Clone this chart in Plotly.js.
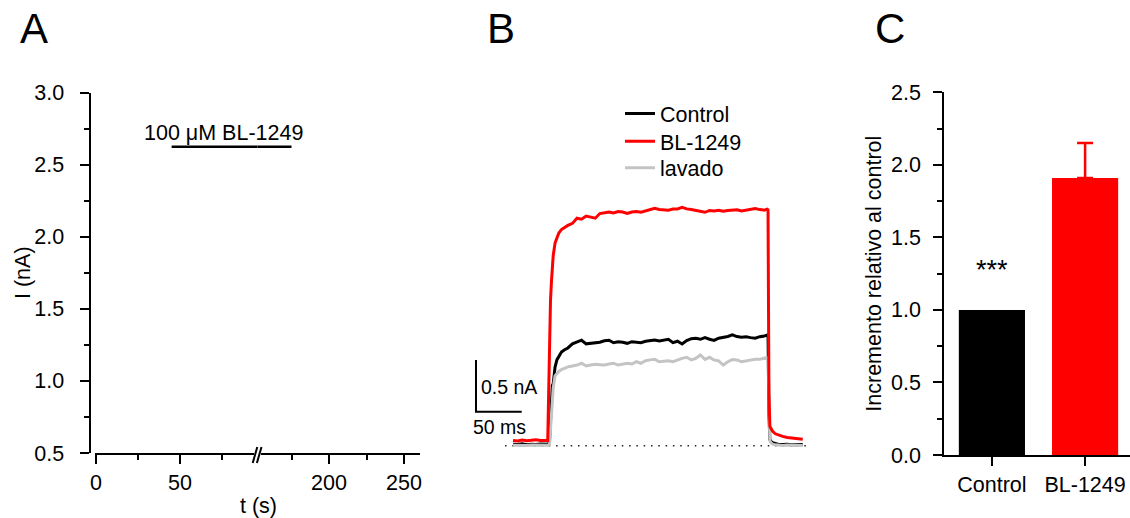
<!DOCTYPE html>
<html><head><meta charset="utf-8">
<script src="https://cdn.plot.ly/plotly-3.0.1.min.js"></script>
<style>html,body{margin:0;padding:0;background:#fff}#chart{width:1130px;height:518px}</style>
</head><body><div id="chart"></div>
<script>
// ---------- Panel A data ----------
const aYTicks = [0.5, 1.0, 1.5, 2.0, 2.5, 3.0];
const aYTickText = ['0.5', '1.0', '1.5', '2.0', '2.5', '3.0'];
const aYMinor = [0.75, 1.25, 1.75, 2.25, 2.75];
const aXLeftTicks = [0, 50];
const aXLeftMinor = [25, 75];
const aXRightTicks = [200, 250];
const aXRightMinor = [175, 225];
const aYTitle = 'I (nA)';
const aXTitle = 't (s)';
const drugLabel = '100 \u03BCM BL-1249';
const drugTimes = [45, 175];       // s
const drugLevel = [2.625, 2.625];  // nA

// ---------- Panel B data ----------
const seriesNames = ['Control', 'BL-1249', 'lavado'];
const timeMs = [0,5,10,15,20,25,30,35,38,39,40,41,42,43,44,46,48,50,53,56,
  60,65,70,75,80,85,90,95,100,105,110,115,120,125,130,135,140,145,150,155,
  160,165,170,175,180,185,190,195,200,205,210,215,220,225,230,235,240,245,250,255,
  260,265,270,275,278,279,280,281,282,284,287,290,295,300,305,310,317];
const iBL = [0.050,0.045,0.055,0.048,0.052,0.058,0.050,0.054,0.050,0.50,1.10,1.40,1.58,1.72,1.84,1.96,2.02,2.055,2.09,2.11,
  2.13,2.15,2.20,2.19,2.22,2.21,2.20,2.245,2.255,2.26,2.25,2.265,2.26,2.245,2.26,2.265,2.257,2.27,2.28,2.295,
  2.285,2.28,2.278,2.288,2.29,2.305,2.29,2.285,2.278,2.265,2.257,2.275,2.27,2.277,2.268,2.274,2.28,2.282,2.27,2.28,
  2.29,2.293,2.283,2.278,2.287,2.28,0.50,0.19,0.17,0.14,0.115,0.103,0.09,0.08,0.075,0.07,0.062];
const iControl = [0.015,0.012,0.018,0.010,0.015,0.012,0.017,0.013,0.012,0.015,0.05,0.25,0.50,0.58,0.60,0.76,0.83,0.865,0.905,0.925,
  0.945,0.985,1.005,1.02,0.985,0.99,0.995,1.00,1.015,1.02,0.996,1.005,1.00,0.99,1.006,1.00,0.996,1.01,1.013,1.022,
  1.013,1.02,1.029,0.996,1.01,0.984,1.016,1.035,1.039,1.029,1.045,1.03,1.018,1.039,1.045,1.056,1.071,1.055,1.048,1.054,
  1.045,1.039,1.054,1.06,1.071,1.07,0.30,0.06,0.045,0.03,0.022,0.015,0.012,0.015,0.010,0.013,0.012];
const iLavado = [0.005,0.003,0.008,0.002,0.006,0.004,0.007,0.003,0.005,0.005,0.02,0.15,0.35,0.42,0.56,0.675,0.70,0.718,0.735,0.748,
  0.762,0.771,0.78,0.797,0.771,0.78,0.787,0.783,0.78,0.79,0.797,0.78,0.785,0.797,0.79,0.812,0.797,0.822,0.83,0.835,
  0.812,0.82,0.822,0.812,0.83,0.845,0.855,0.829,0.845,0.877,0.835,0.855,0.829,0.82,0.78,0.812,0.833,0.829,0.812,0.82,
  0.825,0.835,0.835,0.85,0.855,0.85,0.25,0.05,0.03,0.015,0.008,0.005,0.003,0.006,0.004,0.005,0.003];
const baselineMs = [-8.75, 325];
const baselineNa = [0, 0];
const scaleOriginMs = -40.5, scaleOriginNa = 0.329;
const scaleMs = 50, scaleNa = 0.5;
const scaleLabels = ['0.5 nA', '50 ms'];

// ---------- Panel C data ----------
const cCategories = ['Control', 'BL-1249'];
const cMeans = [1.0, 1.91];
const cSem = [0, 0.24];
const cSig = ['***', ''];
const cYTicks = [0.0, 0.5, 1.0, 1.5, 2.0, 2.5];
const cYTickText = ['0.0', '0.5', '1.0', '1.5', '2.0', '2.5'];
const cYMinor = [0.25, 0.75, 1.25, 1.75, 2.25];
const cYTitle = 'Incremento relativo al control';

// ---------- layout helpers ----------
const W = 1130, H = 518;
const px = v => v / W;
const py = v => (H - v) / H;
const F = 'Liberation Sans, Arial, sans-serif';
const FS = 21.5;
const font = {family: F, size: FS, color: '#000'};
const smallFont = {family: F, size: 19.5, color: '#000'};
const minorStyle = {ticks: 'outside', ticklen: 5, tickwidth: 2, tickcolor: '#000', showgrid: false};
const axBase = {showgrid: false, zeroline: false, showline: true, linecolor: '#000', linewidth: 2,
  ticks: 'outside', ticklen: 9, tickwidth: 2, tickcolor: '#000', tickfont: font, fixedrange: true};

const traces = [];
// Panel A drug bar (drawn across the broken axis)
traces.push({x: drugTimes, y: drugLevel, xaxis: 'x', yaxis: 'y', mode: 'lines',
  line: {color: '#000', width: 2.5}, showlegend: false, hoverinfo: 'skip'});
traces.push({x: drugTimes, y: drugLevel, xaxis: 'x2', yaxis: 'y', mode: 'lines',
  line: {color: '#000', width: 2.5}, showlegend: false, hoverinfo: 'skip'});

// Panel B
traces.push({x: baselineMs, y: baselineNa, xaxis: 'x3', yaxis: 'y3', mode: 'lines',
  line: {color: '#222', width: 1.5, dash: '1.5px,5.8px'}, showlegend: false});
traces.push({x: timeMs, y: iControl, xaxis: 'x3', yaxis: 'y3', mode: 'lines', name: seriesNames[0],
  line: {color: '#000', width: 3}, legend: 'legend'});
traces.push({x: timeMs, y: iLavado, xaxis: 'x3', yaxis: 'y3', mode: 'lines', name: seriesNames[2],
  line: {color: '#c4c4c4', width: 3}, legend: 'legend3'});
traces.push({x: timeMs, y: iBL, xaxis: 'x3', yaxis: 'y3', mode: 'lines', name: seriesNames[1],
  line: {color: '#ff0000', width: 3}, legend: 'legend2'});
traces.push({x: [scaleOriginMs, scaleOriginMs, scaleOriginMs + scaleMs],
  y: [scaleOriginNa + scaleNa, scaleOriginNa, scaleOriginNa], xaxis: 'x3', yaxis: 'y3', mode: 'lines',
  line: {color: '#000', width: 2}, showlegend: false});

// Panel C
traces.push({type: 'bar', x: [cCategories[0]], y: [cMeans[0]], xaxis: 'x4', yaxis: 'y4', width: 0.71,
  marker: {color: '#000', line: {width: 0}}, showlegend: false});
traces.push({type: 'bar', x: [cCategories[1]], y: [cMeans[1]], xaxis: 'x4', yaxis: 'y4', width: 0.71,
  marker: {color: '#ff0000', line: {width: 0}}, showlegend: false,
  error_y: {type: 'data', symmetric: false, array: [cSem[1]], arrayminus: [0], color: '#ff0000', thickness: 2.5, width: 8}});

const annotations = [
  {text: 'A', xref: 'paper', yref: 'paper', x: px(33.8), y: py(28), xanchor: 'center', yanchor: 'middle', showarrow: false, font: {family: F, size: 42, color: '#000'}},
  {text: 'B', xref: 'paper', yref: 'paper', x: px(500.8), y: py(28), xanchor: 'center', yanchor: 'middle', showarrow: false, font: {family: F, size: 42, color: '#000'}},
  {text: 'C', xref: 'paper', yref: 'paper', x: px(890), y: py(28), xanchor: 'center', yanchor: 'middle', showarrow: false, font: {family: F, size: 42, color: '#000'}},
  {text: drugLabel, xref: 'paper', yref: 'y', x: px(223), y: 2.72, xanchor: 'center', yanchor: 'middle', showarrow: false, font: font},
  {text: aXTitle, xref: 'paper', yref: 'paper', x: px(258), y: py(506), xanchor: 'center', yanchor: 'middle', showarrow: false, font: font},
  {text: aYTitle, xref: 'paper', yref: 'paper', x: px(23), y: py(273), xanchor: 'center', yanchor: 'middle', textangle: -90, showarrow: false, font: font},
  {text: scaleLabels[0], xref: 'x3', yref: 'y3', x: -37.5, y: 0.565, xanchor: 'left', yanchor: 'middle', showarrow: false, font: smallFont},
  {text: scaleLabels[1], xref: 'x3', yref: 'y3', x: -46.5, y: 0.184, xanchor: 'left', yanchor: 'middle', showarrow: false, font: smallFont},
  {text: cSig[0], xref: 'x4', yref: 'y4', x: cCategories[0], y: 1.275, xanchor: 'center', yanchor: 'middle', showarrow: false, font: {family: F, size: 27, color: '#000'}}
];

const shapes = [
  // axis break in panel A
  {type: 'rect', xref: 'paper', yref: 'paper', x0: px(254), x1: px(261), y0: py(457), y1: py(449), fillcolor: '#fff', line: {width: 0}, layer: 'above'},
  {type: 'line', xref: 'paper', yref: 'paper', x0: px(252.7), y0: py(463), x1: px(257.3), y1: py(447), line: {color: '#000', width: 2}, layer: 'above'},
  {type: 'line', xref: 'paper', yref: 'paper', x0: px(256.9), y0: py(463), x1: px(261.5), y1: py(447), line: {color: '#000', width: 2}, layer: 'above'}
];

const legendBase = {xanchor: 'left', yanchor: 'top', font: font, bgcolor: 'rgba(0,0,0,0)', borderwidth: 0};
const layout = {
  width: W, height: H, margin: {l: 0, r: 0, t: 0, b: 0},
  paper_bgcolor: '#fff', plot_bgcolor: 'rgba(0,0,0,0)', font: font,
  barmode: 'overlay', showlegend: true,
  legend: Object.assign({x: px(620), y: py(93)}, legendBase),
  legend2: Object.assign({x: px(620), y: py(120.7)}, legendBase),
  legend3: Object.assign({x: px(620), y: py(147.3)}, legendBase),
  xaxis: Object.assign({}, axBase, {domain: [px(95.2), px(257.5)], range: [-0.5, 96.13], anchor: 'y',
    tickvals: aXLeftTicks, ticktext: aXLeftTicks.map(String), minor: Object.assign({tickvals: aXLeftMinor}, minorStyle)}),
  xaxis2: Object.assign({}, axBase, {domain: [px(257.5), px(420)], range: [152.33, 260.67], anchor: 'y',
    tickvals: aXRightTicks, ticktext: aXRightTicks.map(String), minor: Object.assign({tickvals: aXRightMinor}, minorStyle)}),
  yaxis: Object.assign({}, axBase, {domain: [py(453), py(92.7)], range: [0.5, 3.0], anchor: 'free', position: px(89.5),
    tickvals: aYTicks, ticktext: aYTickText, minor: Object.assign({tickvals: aYMinor}, minorStyle), ticklabelstandoff: 11}),
  xaxis3: {visible: false, domain: [px(470), px(830)], range: [-47.05, 346.8], anchor: 'y3', fixedrange: true},
  yaxis3: {visible: false, domain: [py(470), py(100)], range: [-0.235, 3.343], anchor: 'x3', fixedrange: true},
  xaxis4: Object.assign({}, axBase, {type: 'category', domain: [px(944.3), 1], range: [-0.511, 1.482], anchor: 'y4'}),
  yaxis4: Object.assign({}, axBase, {domain: [py(455), py(92.3)], range: [0, 2.5], anchor: 'x4',
    tickvals: cYTicks, ticktext: cYTickText, minor: Object.assign({tickvals: cYMinor}, minorStyle), ticklabelstandoff: 8,
    title: {text: cYTitle, font: font, standoff: 4}}),
  annotations: annotations,
  shapes: shapes
};

Plotly.newPlot('chart', traces, layout, {staticPlot: true, displayModeBar: false});
</script></body></html>
